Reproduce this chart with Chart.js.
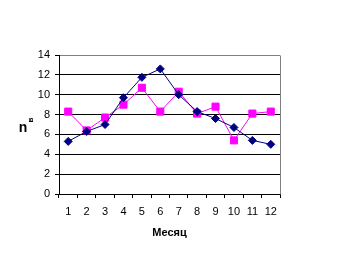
<!DOCTYPE html>
<html><head><meta charset="utf-8">
<script src="https://cdn.jsdelivr.net/npm/chart.js@4"></script>
<style>html,body{margin:0;padding:0;background:#fff}canvas{display:block}</style>
</head><body>
<canvas id="c" width="343" height="257"></canvas>
<script>
const months = ['1','2','3','4','5','6','7','8','9','10','11','12'];
const seriesNavy = [5.3, 6.3, 7.0, 9.7, 11.75, 12.6, 10.0, 8.3, 7.6, 6.7, 5.4, 5.0];
const seriesPink = [8.3, 6.4, 7.7, 9.0, 10.7, 8.3, 10.3, 8.1, 8.8, 5.4, 8.1, 8.3];
const yTicks = [0, 2, 4, 6, 8, 10, 12, 14];
const xTitle = 'Месяц';
const yTitleMain = 'n';
const yTitleSub = 'в';

const FONT = '"Liberation Sans", Arial, sans-serif';

const decor = {
  id: 'decor',
  afterDraw(chart) {
    const ctx = chart.ctx, a = chart.chartArea;
    ctx.save();
    ctx.strokeStyle = '#808080';
    ctx.lineWidth = 1;
    ctx.beginPath();
    ctx.moveTo(Math.round(a.right) + 0.5, Math.round(a.top) + 0.5);
    ctx.lineTo(Math.round(a.right) + 0.5, Math.round(a.bottom) + 0.5);
    ctx.stroke();
    ctx.fillStyle = '#000';
    ctx.font = 'bold 11px ' + FONT;
    ctx.textAlign = 'center';
    ctx.textBaseline = 'middle';
    ctx.fillText(xTitle, (a.left + a.right) / 2, 233);
    ctx.font = 'bold 14px ' + FONT;
    ctx.fillText(yTitleMain, 23, 128);
    ctx.translate(31, 120);
    ctx.rotate(-Math.PI / 2);
    ctx.font = 'bold 8px ' + FONT;
    ctx.fillText(yTitleSub, 0, 0);
    ctx.restore();
  }
};

new Chart(document.getElementById('c'), {
  type: 'line',
  data: {
    labels: months,
    datasets: [
      {
        data: seriesNavy,
        borderColor: '#000080', backgroundColor: '#000080',
        borderWidth: 1, pointStyle: 'rectRot', pointRadius: 4,
        pointBorderWidth: 1, tension: 0
      },
      {
        data: seriesPink,
        borderColor: '#FF00FF', backgroundColor: '#FF00FF',
        borderWidth: 1, pointStyle: 'rect', pointRadius: 5,
        pointBorderWidth: 1, tension: 0
      }
    ]
  },
  options: {
    responsive: false,
    animation: false,
    events: [],
    layout: { padding: { left: 0, top: 55, right: 63, bottom: 0 } },
    plugins: { legend: { display: false }, tooltip: { enabled: false } },
    scales: {
      x: {
        offset: true,
        afterFit: s => { s.height = 63; },
        grid: { offset: true, drawOnChartArea: false, color: '#000', tickLength: 4, tickWidth: 1 },
        border: { color: '#000', width: 1 },
        ticks: { color: '#000', font: { family: FONT, size: 11 }, padding: 7, maxRotation: 0, autoSkip: false }
      },
      y: {
        min: 0, max: 14,
        afterFit: s => { s.width = 59; },
        afterBuildTicks: s => { s.ticks = yTicks.map(v => ({ value: v })); },
        grid: {
          color: c => (c.tick && c.tick.value === 14) ? '#808080' : '#000',
          tickColor: '#000', tickLength: 4, lineWidth: 1
        },
        border: { color: '#000', width: 1 },
        ticks: { color: '#000', font: { family: FONT, size: 11 }, padding: 5 }
      }
    }
  },
  plugins: [decor]
});
</script>
</body></html>
